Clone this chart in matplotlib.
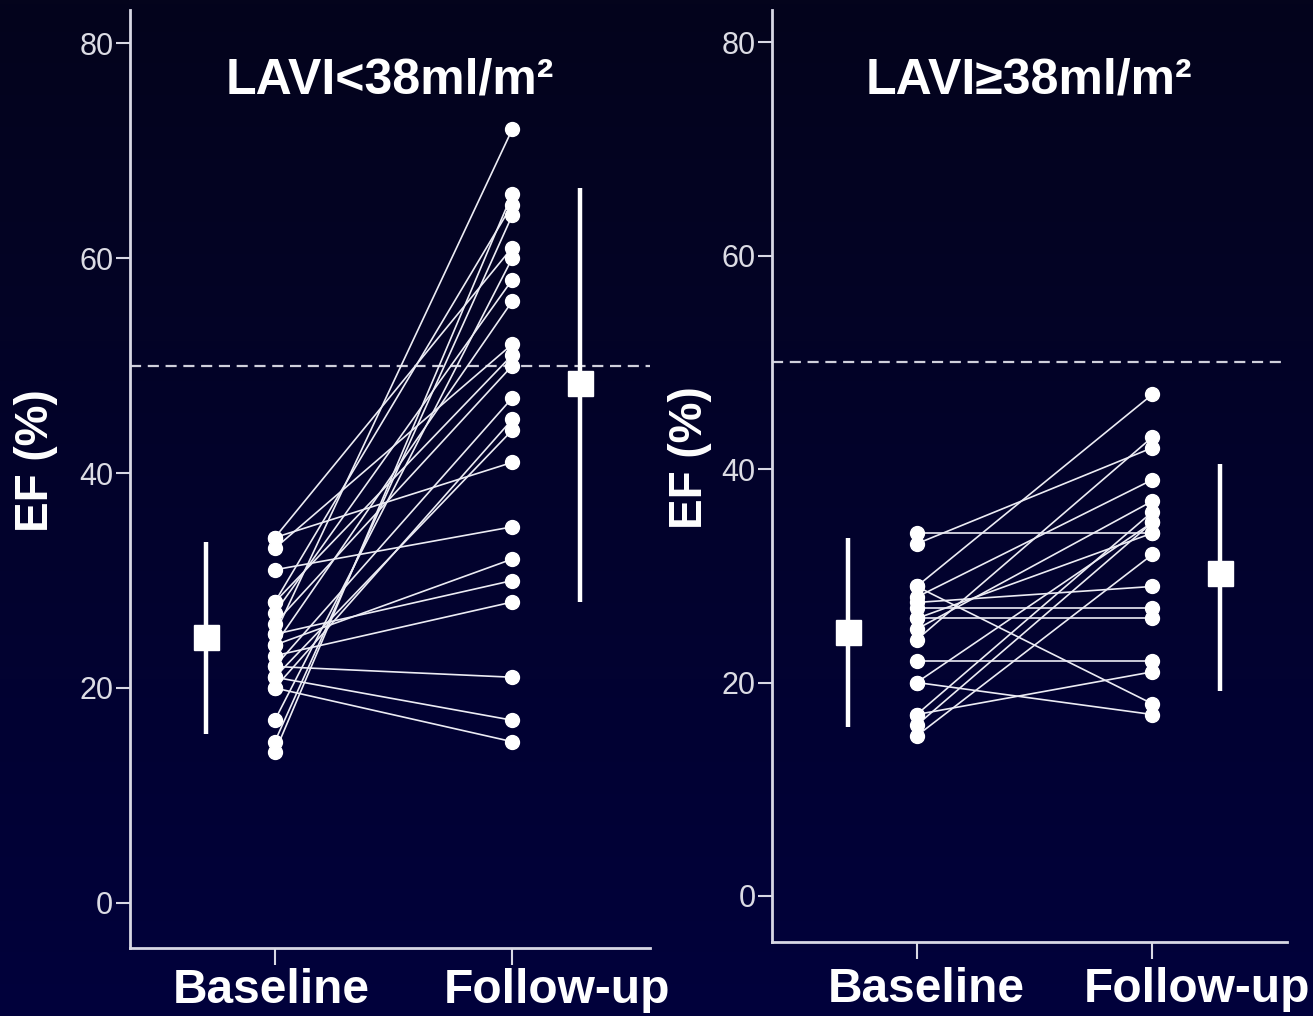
import numpy as np
import matplotlib
matplotlib.use("Agg")
import matplotlib.pyplot as plt
import matplotlib.transforms as mtransforms

plt.rcParams['font.family'] = ['Liberation Sans', 'DejaVu Sans']

# ---- data ----
groups = ['Baseline', 'Follow-up']
titles = ['LAVI<38ml/m\u00b2', 'LAVI\u226538ml/m\u00b2']

# LAVI < 38 : paired EF (%) values
low_base = [34, 34, 33, 31, 28, 27, 26, 25, 25, 24, 24, 23, 22, 22, 21, 21, 20, 20, 17, 15, 14, 28]
low_follow = [41, 61, 52, 35, 65, 58, 50, 72, 30, 32, 56, 28, 21, 47, 17, 44, 15, 45, 60, 64, 66, 51]
low_mean = [24.7, 48.4]
low_lo = [15.7, 28.0]
low_hi = [33.6, 66.5]

# LAVI >= 38
high_base = [34, 33, 29, 29, 28, 27.5, 27, 26, 25, 24, 22, 20, 20, 17, 17, 16, 15, 26]
high_follow = [34, 42, 47, 18, 39, 29, 27, 26, 37, 43, 22, 35, 17, 21, 36, 35, 32, 34]
high_mean = [24.7, 30.3]
high_lo = [15.8, 19.2]
high_hi = [33.5, 40.5]

cutoff = 50

fig = plt.figure(figsize=(13.13, 10.16), dpi=100)

# dark navy gradient background
bg = fig.add_axes([0, 0, 1, 1], zorder=-10)
grad = np.linspace(0, 1, 256).reshape(-1, 1)
top = np.array([4, 4, 28]) / 255
bot = np.array([1, 1, 60]) / 255
img = top + (bot - top) * grad[:, :, None]
bg.imshow(img, aspect='auto', extent=[0, 1, 0, 1])
bg.axis('off')

axL = fig.add_axes([0.099, 0.067, 0.396, 0.923])
axR = fig.add_axes([0.588, 0.073, 0.392, 0.917])

panels = [
    (axL, low_base, low_follow, low_mean, low_lo, low_hi, titles[0], (-4.2, 83.1), (0.39, 2.58),
     [0.983, 2.19], -0.045, -0.138),
    (axR, high_base, high_follow, high_mean, high_lo, high_hi, titles[1], (-4.3, 83.0), (0.386, 2.57),
     [1.042, 2.19], -0.051, -0.117),
]

spine_col = '#d8d8e4'
for ax, b, f, m, lo, hi, title, ylim, xlim, lab_x, lab_y, ylab_x in panels:
    ax.set_facecolor('none')
    for yb, yf in zip(b, f):
        ax.plot([1, 2], [yb, yf], color='#ececf4', lw=1.2, zorder=2)
    ax.plot(np.ones(len(b)), b, 'o', color='white', ms=10, mec='white', zorder=3)
    ax.plot(np.full(len(f), 2), f, 'o', color='white', ms=10, mec='white', zorder=3)

    ax.axhline(cutoff, color='#d0d0dc', lw=1.6, ls=(0, (5, 3)), zorder=1)

    mx = [0.71, 2.285]
    ax.vlines(mx, lo, hi, color='white', lw=3.2, zorder=4)
    ax.plot(mx, m, 's', color='white', ms=18, zorder=5)

    ax.set_ylim(*ylim)
    ax.set_xlim(*xlim)
    ax.set_yticks([0, 20, 40, 60, 80])
    ax.set_xticks([1, 2])
    ax.set_xticklabels([])
    trans = mtransforms.blended_transform_factory(ax.transData, ax.transAxes)
    for xp, g in zip(lab_x, groups):
        ax.text(xp, lab_y, g, transform=trans, ha='center', va='center',
                fontsize=34.5, fontweight='bold', color='white', clip_on=False)
    ax.tick_params(axis='y', colors=spine_col, labelcolor='#dcdce4', labelsize=22,
                   length=10, width=1.5, pad=2)
    ax.tick_params(axis='x', colors=spine_col, length=12, width=1.5)
    for s in ['top', 'right']:
        ax.spines[s].set_visible(False)
    for s in ['left', 'bottom']:
        ax.spines[s].set_color(spine_col)
        ax.spines[s].set_linewidth(2)
    ax.set_ylabel('EF (%)', fontsize=33, fontweight='bold', color='white')
    ax.yaxis.set_label_coords(ylab_x, 0.52)
    ax.text(0.5, 0.925, title, transform=ax.transAxes, ha='center', va='center',
            fontsize=36, fontweight='bold', color='white')

fig.savefig('out.png', dpi=100, facecolor=fig.get_facecolor())
